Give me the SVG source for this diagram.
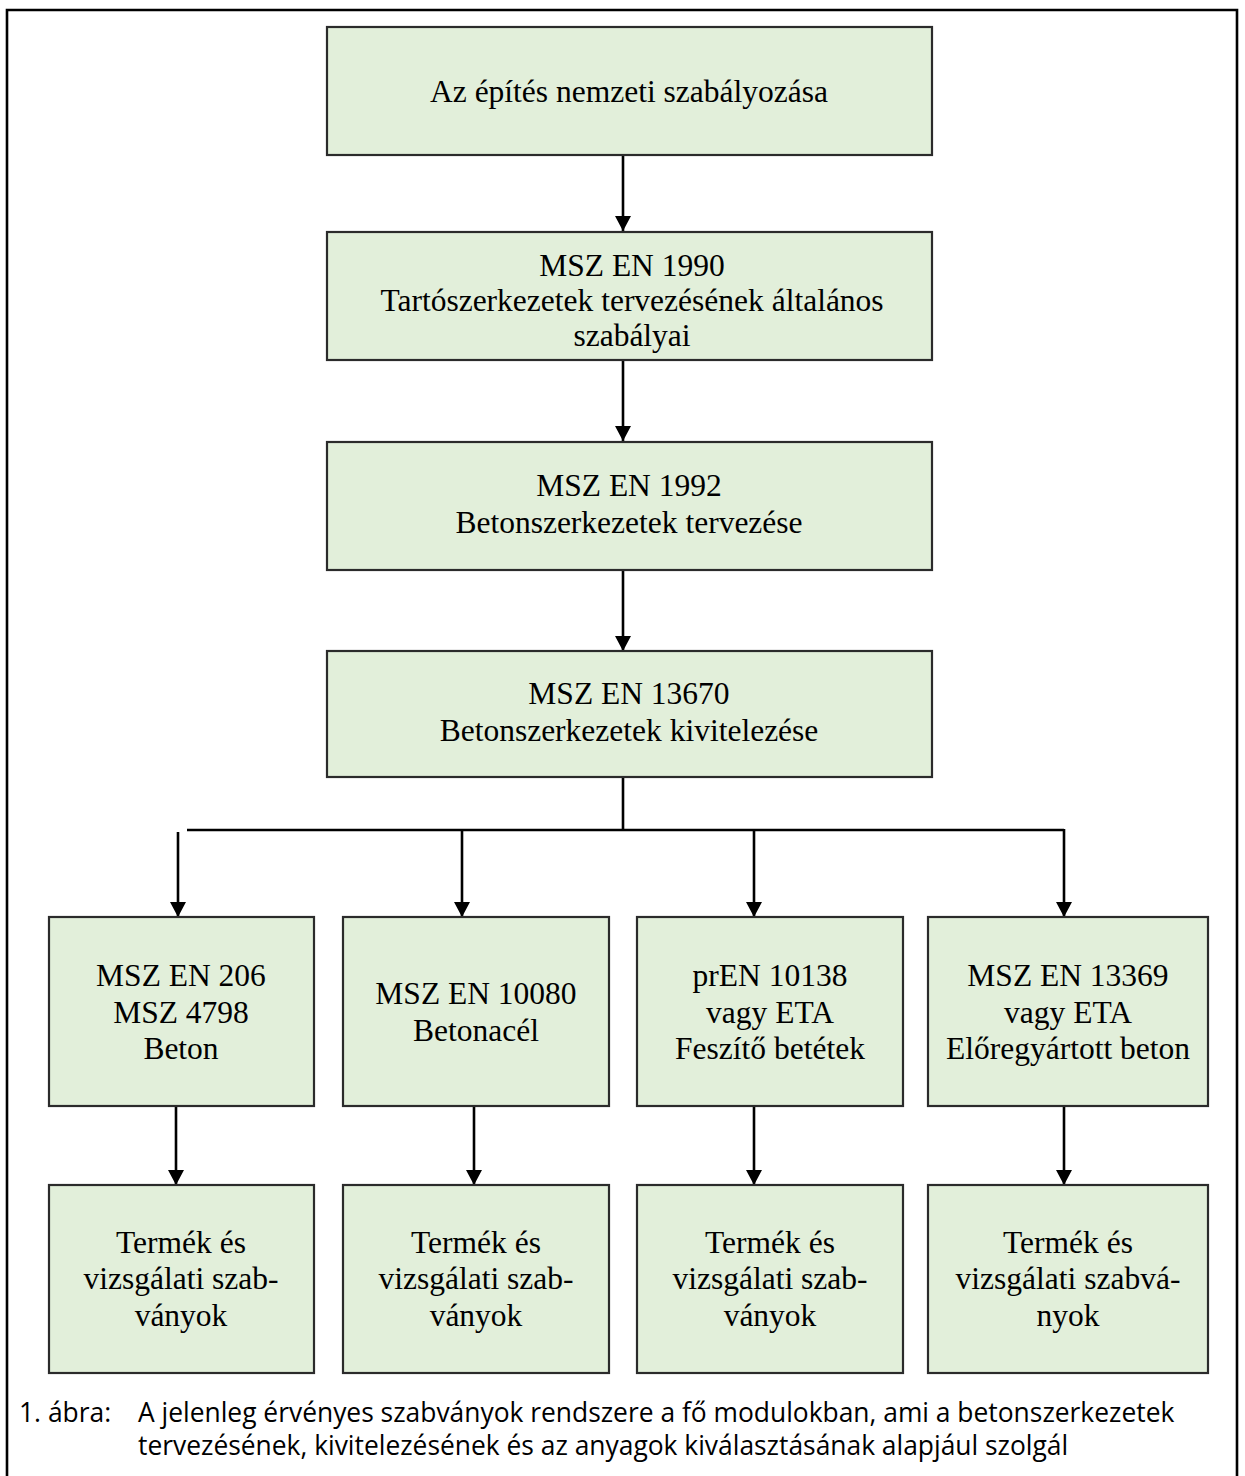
<svg xmlns="http://www.w3.org/2000/svg" width="1245" height="1476" viewBox="0 0 1245 1476">
<defs>
<style>
.box{fill:#E2EFDA;stroke:#2b2b2b;stroke-width:2.2}
.t{font-family:"Liberation Serif","Times New Roman",serif;font-size:31.5px;fill:#000;text-anchor:middle}
.c{font-family:"Open Sans","Noto Sans",sans-serif;font-size:26.4px;fill:#000}
.ln{stroke:#000;stroke-width:2.6;fill:none}
</style>
<marker id="ah" markerUnits="userSpaceOnUse" markerWidth="16" markerHeight="16" viewBox="0 0 16 16" refX="8" refY="16" orient="auto-start-reverse">
<path d="M0,0 L16,0 L8,16 Z" fill="#000" transform="rotate(0)"/>
</marker>
<marker id="av" markerUnits="userSpaceOnUse" markerWidth="16" markerHeight="16" viewBox="0 0 16 16" refX="8" refY="16" orient="0">
<path d="M0,1 L16,1 L8,16 Z" fill="#000"/>
</marker>
</defs>
<rect x="0" y="0" width="1245" height="1476" fill="#fff"/>
<path d="M7,1480 L7,10 L1237,10 L1237,1480" fill="none" stroke="#000" stroke-width="2.6"/>

<g id="connectors">
<line class="ln" x1="623" y1="155" x2="623" y2="231" marker-end="url(#av)"/>
<line class="ln" x1="623" y1="360" x2="623" y2="441" marker-end="url(#av)"/>
<line class="ln" x1="623" y1="570" x2="623" y2="651" marker-end="url(#av)"/>
<line class="ln" x1="623" y1="777" x2="623" y2="830"/>
<line class="ln" x1="187" y1="830" x2="1064" y2="830"/>
<line class="ln" x1="178" y1="832" x2="178" y2="917" marker-end="url(#av)"/>
<line class="ln" x1="462" y1="830" x2="462" y2="917" marker-end="url(#av)"/>
<line class="ln" x1="754" y1="830" x2="754" y2="917" marker-end="url(#av)"/>
<line class="ln" x1="1064" y1="829" x2="1064" y2="917" marker-end="url(#av)"/>
<line class="ln" x1="176" y1="1106" x2="176" y2="1185" marker-end="url(#av)"/>
<line class="ln" x1="474" y1="1106" x2="474" y2="1185" marker-end="url(#av)"/>
<line class="ln" x1="754" y1="1106" x2="754" y2="1185" marker-end="url(#av)"/>
<line class="ln" x1="1064" y1="1106" x2="1064" y2="1185" marker-end="url(#av)"/>
</g>

<g id="n-nemzeti">
<rect class="box" x="327" y="27" width="605" height="128"/>
<text class="t" x="629" y="102">Az építés nemzeti szabályozása</text>
</g>
<g id="n-1990">
<rect class="box" x="327" y="232" width="605" height="128"/>
<text class="t" x="632" y="276">MSZ EN 1990</text>
<text class="t" x="632" y="311">Tartószerkezetek tervezésének általános</text>
<text class="t" x="632" y="346">szabályai</text>
</g>
<g id="n-1992">
<rect class="box" x="327" y="442" width="605" height="128"/>
<text class="t" x="629" y="496">MSZ EN 1992</text>
<text class="t" x="629" y="533">Betonszerkezetek tervezése</text>
</g>
<g id="n-13670">
<rect class="box" x="327" y="651" width="605" height="126"/>
<text class="t" x="629" y="704">MSZ EN 13670</text>
<text class="t" x="629" y="741">Betonszerkezetek kivitelezése</text>
</g>

<g id="n-beton">
<rect class="box" x="49" y="917" width="265" height="189"/>
<text class="t" x="181" y="986">MSZ EN 206</text>
<text class="t" x="181" y="1023">MSZ 4798</text>
<text class="t" x="181" y="1059">Beton</text>
</g>
<g id="n-betonacel">
<rect class="box" x="343" y="917" width="266" height="189"/>
<text class="t" x="476" y="1004">MSZ EN 10080</text>
<text class="t" x="476" y="1041">Betonacél</text>
</g>
<g id="n-feszito">
<rect class="box" x="637" y="917" width="266" height="189"/>
<text class="t" x="770" y="986">prEN 10138</text>
<text class="t" x="770" y="1023">vagy ETA</text>
<text class="t" x="770" y="1059">Feszítő betétek</text>
</g>
<g id="n-elore">
<rect class="box" x="928" y="917" width="280" height="189"/>
<text class="t" x="1068" y="986">MSZ EN 13369</text>
<text class="t" x="1068" y="1023">vagy ETA</text>
<text class="t" x="1068" y="1059">Előregyártott beton</text>
</g>

<g id="n-termek1">
<rect class="box" x="49" y="1185" width="265" height="188"/>
<text class="t" x="181" y="1253">Termék és</text>
<text class="t" x="181" y="1289">vizsgálati szab-</text>
<text class="t" x="181" y="1326">ványok</text>
</g>
<g id="n-termek2">
<rect class="box" x="343" y="1185" width="266" height="188"/>
<text class="t" x="476" y="1253">Termék és</text>
<text class="t" x="476" y="1289">vizsgálati szab-</text>
<text class="t" x="476" y="1326">ványok</text>
</g>
<g id="n-termek3">
<rect class="box" x="637" y="1185" width="266" height="188"/>
<text class="t" x="770" y="1253">Termék és</text>
<text class="t" x="770" y="1289">vizsgálati szab-</text>
<text class="t" x="770" y="1326">ványok</text>
</g>
<g id="n-termek4">
<rect class="box" x="928" y="1185" width="280" height="188"/>
<text class="t" x="1068" y="1253">Termék és</text>
<text class="t" x="1068" y="1289">vizsgálati szabvá-</text>
<text class="t" x="1068" y="1326">nyok</text>
</g>

<g id="caption">
<text class="c" x="19" y="1422">1. ábra:</text>
<text class="c" x="138" y="1422">A jelenleg érvényes szabványok rendszere a fő modulokban, ami a betonszerkezetek</text>
<text class="c" x="138" y="1455">tervezésének, kivitelezésének és az anyagok kiválasztásának alapjául szolgál</text>
</g>
</svg>
